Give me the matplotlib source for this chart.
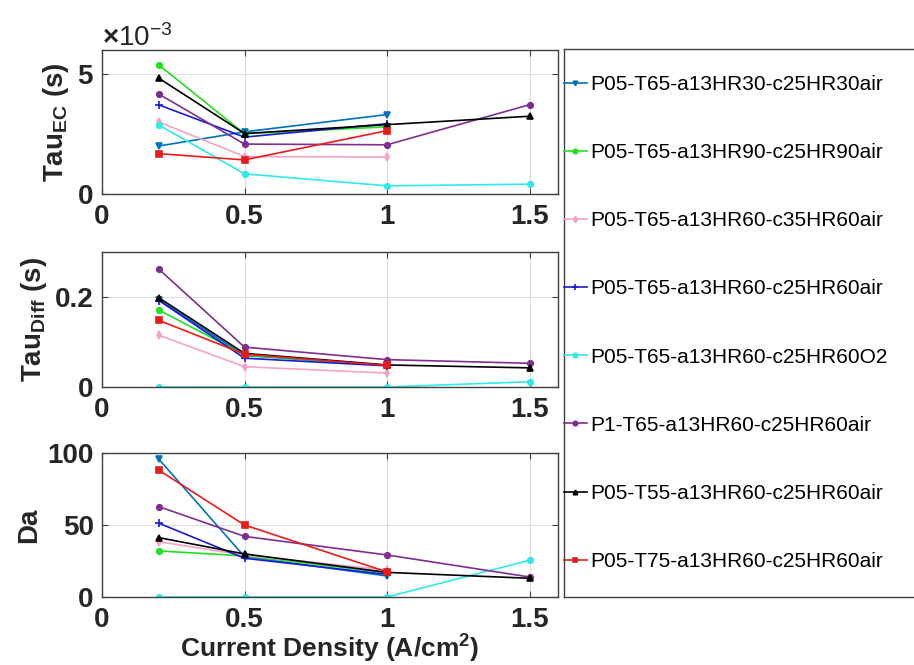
import numpy as np
import matplotlib
matplotlib.use("Agg")
import matplotlib.pyplot as plt
from matplotlib.ticker import ScalarFormatter, FixedFormatter

plt.rcParams["font.family"] = ["Liberation Sans", "DejaVu Sans"]
plt.rcParams["mathtext.fontset"] = "custom"
plt.rcParams["mathtext.rm"] = "Liberation Sans:bold"
plt.rcParams["mathtext.bf"] = "Liberation Sans:bold"
plt.rcParams["mathtext.default"] = "bf"

# current density points (A/cm2)
X4 = [0.2, 0.5, 1.0, 1.5]
X3 = [0.2, 0.5, 1.0]

LABELS = [
    "P05-T65-a13HR30-c25HR30air",
    "P05-T65-a13HR90-c25HR90air",
    "P05-T65-a13HR60-c35HR60air",
    "P05-T65-a13HR60-c25HR60air",
    "P05-T65-a13HR60-c25HR60O2",
    "P1-T65-a13HR60-c25HR60air",
    "P05-T55-a13HR60-c25HR60air",
    "P05-T75-a13HR60-c25HR60air",
]
COLORS = ["#0072BD", "#22e022", "#f4a3c8", "#1a1ad6",
          "#33e8e8", "#7e2f8e", "#000000", "#e81c1c"]
MARKERS = ["v", "o", "d", "+", "o", "o", "^", "s"]

# charge-transfer time constant (s)
TAU_EC = [
    [2.00e-3, 2.59e-3, 3.31e-3],
    [5.37e-3, 2.51e-3, 2.80e-3],
    [3.00e-3, 1.56e-3, 1.54e-3],
    [3.71e-3, 2.37e-3, 2.93e-3],
    [2.87e-3, 0.84e-3, 0.34e-3, 0.41e-3],
    [4.16e-3, 2.08e-3, 2.05e-3, 3.72e-3],
    [4.82e-3, 2.52e-3, 2.89e-3, 3.24e-3],
    [1.68e-3, 1.42e-3, 2.64e-3],
]

# diffusion time constant (s)
TAU_DIFF = [
    [0.194, 0.070, 0.048],
    [0.171, 0.071, 0.048],
    [0.115, 0.045, 0.031],
    [0.192, 0.064, 0.047],
    [0.0, 0.0, 0.0, 0.0117],
    [0.2615, 0.0886, 0.0608, 0.0527],
    [0.198, 0.0747, 0.049, 0.0425],
    [0.148, 0.073, 0.048],
]

# Damkohler number
DA = [
    [95.6, 28.0, 14.6],
    [32.0, 28.5, 16.9],
    [38.4, 29.0, 18.7],
    [51.2, 26.9, 15.7],
    [0.0, 0.0, 0.0, 25.5],
    [62.7, 42.1, 29.2, 13.9],
    [41.2, 29.9, 17.1, 13.0],
    [88.0, 50.0, 17.4],
]

XTICKS = [0, 0.5, 1, 1.5]
XTICKLABELS = ["0", "0.5", "1", "1.5"]
YTICKS = [[0, 5e-3], [0, 0.2], [0, 50, 100]]
YTICKLABELS_MID = ["0", "0.2"]

W, H = 914, 665
fig = plt.figure(figsize=(W / 100, H / 100), dpi=100)


def box(l, t, r, b):
    return [l / W, 1 - b / H, (r - l) / W, (b - t) / H]


axes = [fig.add_axes(box(102, 50, 558, 194)),
        fig.add_axes(box(102, 252, 558, 387)),
        fig.add_axes(box(102, 453, 558, 597))]

datasets = [TAU_EC, TAU_DIFF, DA]
ylims = [(0, 6e-3), (0, 0.3), (0, 100)]
ylabels = [r"Tau$_{EC}$ (s)", r"Tau$_{Diff}$ (s)", "Da"]

handles = []
for k, (ax, data) in enumerate(zip(axes, datasets)):
    for i, ys in enumerate(data):
        xs = X4 if len(ys) == 4 else X3
        ms = 6 if MARKERS[i] == "+" else 4
        ln, = ax.plot(xs, ys, color=COLORS[i], marker=MARKERS[i],
                      markersize=ms, linewidth=1.2, markeredgewidth=1.2,
                      label=LABELS[i])
        if k == 0:
            handles.append(ln)
    ax.set_xlim(0, 1.6)
    ax.set_ylim(*ylims[k])
    ax.set_xticks(XTICKS)
    ax.set_xticklabels(XTICKLABELS)
    ax.set_yticks(YTICKS[k])
    ax.grid(True, color="#dcdcdc", linewidth=0.8)
    ax.set_axisbelow(True)
    ax.tick_params(direction="in", length=4, width=0.8, labelsize=20,
                   top=True, right=True, color="#404040")
    ax.tick_params(axis="x", pad=7)
    ax.tick_params(axis="y", pad=6)
    for sp in ax.spines.values():
        sp.set_color("#404040")
        sp.set_linewidth(1.0)
    ax.set_ylabel(ylabels[k], fontsize=20, fontweight="bold",
                  color="#262626", labelpad=4)

axes[1].yaxis.set_major_formatter(FixedFormatter(YTICKLABELS_MID))

fmt = ScalarFormatter(useMathText=True)
fmt.set_powerlimits((-3, -3))
axes[0].yaxis.set_major_formatter(fmt)
off = axes[0].yaxis.get_offset_text()
off.set_fontsize(20)
off.set_color("#262626")

for ax in axes:
    for lab in ax.get_xticklabels() + ax.get_yticklabels():
        lab.set_fontweight("bold")
        lab.set_color("#262626")

axes[2].set_xlabel(r"Current Density (A/cm$^{2}$)", fontsize=19,
                   fontweight="bold", color="#262626", labelpad=0)

# legend panel on the right
lax = fig.add_axes(box(564, 49, 930, 597))
lax.set_xticks([])
lax.set_yticks([])
for sp in lax.spines.values():
    sp.set_color("#404040")
    sp.set_linewidth(1.0)
lax.set_facecolor("white")
lax.legend(handles=handles, loc="center left", frameon=False,
           fontsize=15, handlelength=1.1, handletextpad=0.15,
           labelspacing=2.36, borderaxespad=0.0, borderpad=0.0,
           markerscale=0.8)

fig.savefig("out.png", dpi=100)
